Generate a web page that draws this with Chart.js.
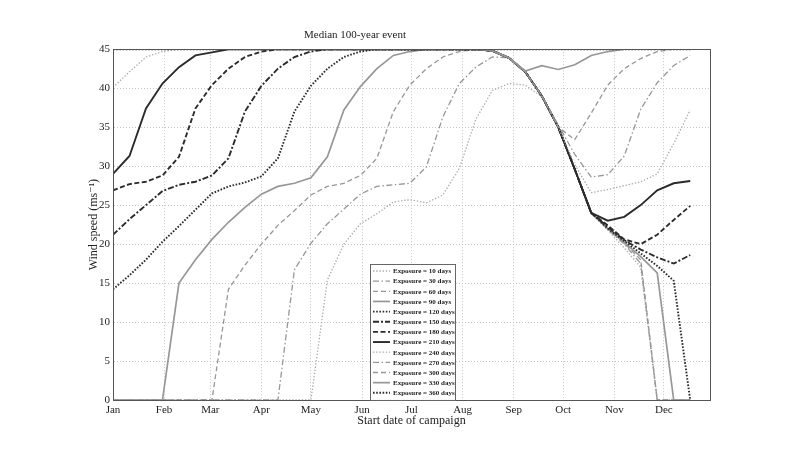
<!DOCTYPE html>
<html>
<head>
<meta charset="utf-8">
<script src="https://cdn.jsdelivr.net/npm/chart.js@4.4.1/dist/chart.umd.min.js"></script>
<style>
  html, body { margin: 0; padding: 0; background: #fff; }
  #wrap { width: 787px; height: 454px; position: relative; }
</style>
</head>
<body>
<div id="wrap"><canvas id="c" width="787" height="454"></canvas></div>
<script>
// Campaign start dates, in days from 1 January (one value every 10 days)
const startDays = [0, 10, 20, 30, 40, 50, 60, 70, 80, 90, 100, 110, 120, 130, 140, 150, 160, 170,
                   180, 190, 200, 210, 220, 230, 240, 250, 260, 270, 280, 290, 300, 310, 320, 330, 340, 350];

// Month boundaries for the date axis
const monthStarts = [0, 31, 59, 90, 120, 151, 181, 212, 243, 273, 304, 334];
const monthLabels = ['Jan', 'Feb', 'Mar', 'Apr', 'May', 'Jun', 'Jul', 'Aug', 'Sep', 'Oct', 'Nov', 'Dec'];
const speedTicks = [0, 5, 10, 15, 20, 25, 30, 35, 40, 45];

const exposureLabels = ['Exposure = 10 days', 'Exposure = 30 days', 'Exposure = 60 days', 'Exposure = 90 days',
  'Exposure = 120 days', 'Exposure = 150 days', 'Exposure = 180 days', 'Exposure = 210 days',
  'Exposure = 240 days', 'Exposure = 270 days', 'Exposure = 300 days', 'Exposure = 330 days',
  'Exposure = 360 days'];

// Median 100-year wind speed (m/s) for each exposure length
const exp10 = [0, 0, 0, 0, 0, 0, 0, 0, 0, 0, 0, 0, 0, 15.4, 20.0, 22.6, 23.9, 25.4,
  25.7, 25.3, 26.3, 29.7, 36.0, 39.7, 40.6, 40.4, 38.9, 35.0, 29.6, 24.0, 21.8, 19.5, 17.0, 0, 0, 0];
const exp30 = [0, 0, 0, 0, 0, 0, 0, 0, 0, 0, 0, 16.7, 20.1, 22.6, 24.5, 26.4, 27.4, 27.6,
  27.8, 29.9, 36.3, 40.6, 42.7, 44.0, 43.9, 42.1, 39.0, 35.0, 29.6, 24.0, 21.9, 20.0, 17.5, 0, 0, 0];
const exp60 = [0, 0, 0, 0, 0, 0, 0, 14.2, 17.3, 20.0, 22.4, 24.3, 26.3, 27.4, 27.8, 28.8, 31.0, 37.0,
  40.4, 42.5, 44.0, 44.7, 45, 44.8, 43.9, 42.1, 39.0, 35.0, 29.6, 24.0, 22.0, 20.1, 18.0, 0, 0, 0];
const exp90 = [0, 0, 0, 0, 15.0, 18.0, 20.6, 22.8, 24.7, 26.4, 27.4, 27.8, 28.5, 31.2, 37.2, 40.2, 42.5, 44.2,
  44.7, 45, 45, 45, 45, 44.8, 43.9, 42.1, 39.0, 35.0, 29.6, 24.0, 22.0, 20.2, 18.4, 16.3, 0, 0];
const exp120 = [14.2, 16.0, 18.0, 20.3, 22.3, 24.4, 26.5, 27.4, 27.9, 28.7, 31.0, 37.0, 40.3, 42.5, 44.0, 44.7, 45, 45,
  45, 45, 45, 45, 45, 44.8, 43.9, 42.1, 39.0, 35.0, 29.6, 24.0, 22.0, 20.4, 18.8, 17.2, 15.3, 0];
const exp150 = [21.2, 23.2, 25.0, 26.8, 27.6, 28.0, 28.8, 31.0, 37.0, 40.3, 42.5, 44.0, 44.7, 45, 45, 45, 45, 45,
  45, 45, 45, 45, 45, 44.8, 43.9, 42.1, 39.0, 35.0, 29.6, 24.0, 22.2, 20.5, 19.3, 18.3, 17.5, 18.6];
const exp180 = [26.9, 27.7, 28.0, 28.8, 31.2, 37.4, 40.4, 42.5, 44.0, 44.7, 45, 45, 45, 45, 45, 45, 45, 45,
  45, 45, 45, 45, 45, 44.8, 43.9, 42.1, 39.0, 35.0, 29.6, 24.0, 22.4, 20.6, 20.0, 21.2, 23.1, 24.9];
const exp210 = [29.0, 31.3, 37.4, 40.6, 42.7, 44.2, 44.6, 45, 45, 45, 45, 45, 45, 45, 45, 45, 45, 45,
  45, 45, 45, 45, 45, 44.8, 43.9, 42.1, 39.0, 35.0, 29.6, 24.0, 23.0, 23.5, 25.0, 26.9, 27.8, 28.1];
const exp240 = [40.1, 42.1, 44.0, 44.7, 45, 45, 45, 45, 45, 45, 45, 45, 45, 45, 45, 45, 45, 45,
  45, 45, 45, 45, 45, 44.8, 43.9, 42.1, 39.0, 35.0, 30.2, 26.6, 27.0, 27.5, 28.0, 29.0, 32.9, 37.2];
const exp270 = [45, 45, 45, 45, 45, 45, 45, 45, 45, 45, 45, 45, 45, 45, 45, 45, 45, 45,
  45, 45, 45, 45, 45, 44.8, 43.9, 42.1, 39.0, 35.3, 31.5, 28.6, 28.9, 31.3, 37.3, 40.7, 42.9, 44.2];
const exp300 = [45, 45, 45, 45, 45, 45, 45, 45, 45, 45, 45, 45, 45, 45, 45, 45, 45, 45,
  45, 45, 45, 45, 45, 44.8, 43.9, 42.1, 39.0, 35.0, 33.4, 36.8, 40.4, 42.5, 43.8, 44.7, 45, 45];
const exp330 = [45, 45, 45, 45, 45, 45, 45, 45, 45, 45, 45, 45, 45, 45, 45, 45, 45, 45,
  45, 45, 45, 45, 45, 44.8, 43.9, 42.2, 42.9, 42.4, 43.0, 44.2, 44.7, 45, 45, 45, 45, 45];
const exp360 = [45, 45, 45, 45, 45, 45, 45, 45, 45, 45, 45, 45, 45, 45, 45, 45, 45, 45,
  45, 45, 45, 45, 45, 45, 45, 45, 45, 45, 45, 45, 45, 45, 45, 45, 45, 45];

const seriesValues = [exp10, exp30, exp60, exp90, exp120, exp150, exp180, exp210,
                      exp240, exp270, exp300, exp330, exp360];

// Line appearance: grey shade, width and dash for each exposure
const DARK = '#2b2b2b', MID = '#979797', LIGHT = '#ababab';
const DOT = [1.4, 1.8], DASHDOT = [6, 2.5, 1.5, 2.5], DASH = [5, 3];
const lineStyles = [
  { color: LIGHT, width: 1.3, dash: DOT },
  { color: MID,   width: 1.3, dash: DASHDOT },
  { color: MID,   width: 1.3, dash: DASH },
  { color: MID,   width: 1.7, dash: [] },
  { color: DARK,  width: 1.9, dash: [1.6, 1.6] },
  { color: DARK,  width: 1.9, dash: [6, 2, 2, 2] },
  { color: DARK,  width: 1.9, dash: [5, 2.5] },
  { color: DARK,  width: 1.9, dash: [] },
  { color: LIGHT, width: 1.3, dash: DOT },
  { color: MID,   width: 1.3, dash: DASHDOT },
  { color: MID,   width: 1.3, dash: DASH },
  { color: MID,   width: 1.7, dash: [] },
  { color: DARK,  width: 1.9, dash: [1.6, 1.6] }
];

const datasets = seriesValues.map((vals, i) => ({
  label: exposureLabels[i],
  data: vals.map((v, k) => ({ x: startDays[k], y: v })),
  borderColor: lineStyles[i].color,
  borderWidth: lineStyles[i].width,
  borderDash: lineStyles[i].dash,
  pointRadius: 0,
  tension: 0,
  fill: false,
  order: seriesValues.length - 1 - i   // later exposures drawn on top
}));

const SERIF = "'Liberation Serif', 'DejaVu Serif', serif";

// Box round the axes, axis titles and the in-plot legend
const decorations = {
  id: 'decorations',
  afterDraw(chart) {
    const { ctx, chartArea: a } = chart;
    ctx.save();
    ctx.setLineDash([]);
    ctx.strokeStyle = '#555';
    ctx.lineWidth = 1;
    ctx.strokeRect(Math.round(a.left) + 0.5, Math.round(a.top) + 0.5,
                   Math.round(a.right - a.left), Math.round(a.bottom - a.top));

    // axis titles
    ctx.fillStyle = '#222';
    ctx.font = '12px ' + SERIF;
    ctx.textAlign = 'center';
    ctx.textBaseline = 'middle';
    ctx.fillText('Start date of campaign', (a.left + a.right) / 2, 421);
    ctx.save();
    ctx.translate(94, (a.top + a.bottom) / 2);
    ctx.rotate(-Math.PI / 2);
    ctx.fillText('Wind speed (ms\u207B\u00B9)', 0, 0);
    ctx.restore();

    // legend
    const lx = 370, ly = 264, lw = 85, rowH = 10.15;
    const lh = rowH * datasets.length + 4;
    ctx.fillStyle = '#fff';
    ctx.fillRect(lx, ly, lw, lh);
    ctx.strokeStyle = '#666';
    ctx.strokeRect(lx + 0.5, ly + 0.5, lw, lh);
    ctx.font = 'bold 7px ' + SERIF;
    ctx.textAlign = 'left';
    chart.data.datasets.forEach((ds, i) => {
      const yy = ly + 7 + i * rowH;
      ctx.beginPath();
      ctx.setLineDash(ds.borderDash);
      ctx.strokeStyle = ds.borderColor;
      ctx.lineWidth = ds.borderWidth;
      ctx.moveTo(lx + 3, yy);
      ctx.lineTo(lx + 20, yy);
      ctx.stroke();
      ctx.setLineDash([]);
      ctx.fillStyle = '#222';
      ctx.fillText(ds.label, lx + 23, yy + 0.5);
    });
    ctx.restore();
  }
};

new Chart(document.getElementById('c'), {
  type: 'line',
  data: { datasets },
  plugins: [decorations],
  options: {
    responsive: false,
    devicePixelRatio: 1,
    animation: false,
    layout: { padding: { left: 0, right: 77, top: 0, bottom: 0 } },
    plugins: {
      legend: { display: false },
      tooltip: { enabled: false },
      title: {
        display: true,
        text: 'Median 100-year event',
        color: '#222',
        font: { family: SERIF, size: 11, weight: 'normal' },
        padding: { top: 29, bottom: 7 }
      }
    },
    scales: {
      x: {
        type: 'linear',
        min: 0,
        max: 362,
        afterFit(s) { s.height = 54; },
        afterBuildTicks(s) { s.ticks = monthStarts.map(v => ({ value: v })); },
        ticks: {
          autoSkip: false,
          maxRotation: 0,
          padding: 4,
          color: '#222',
          font: { family: SERIF, size: 11 },
          callback(value) { return monthLabels[monthStarts.indexOf(value)]; }
        },
        grid: { color: '#c4c4c4', lineWidth: 1, drawTicks: false },
        border: { display: true, color: '#555', dash: [1, 2] }
      },
      y: {
        type: 'linear',
        min: 0,
        max: 45,
        afterFit(s) { s.width = 113; },
        afterBuildTicks(s) { s.ticks = speedTicks.map(v => ({ value: v })); },
        ticks: {
          padding: 3,
          color: '#222',
          font: { family: SERIF, size: 11 }
        },
        grid: { color: '#c4c4c4', lineWidth: 1, drawTicks: false },
        border: { display: true, color: '#555', dash: [1, 2] }
      }
    }
  }
});
</script>
</body>
</html>
